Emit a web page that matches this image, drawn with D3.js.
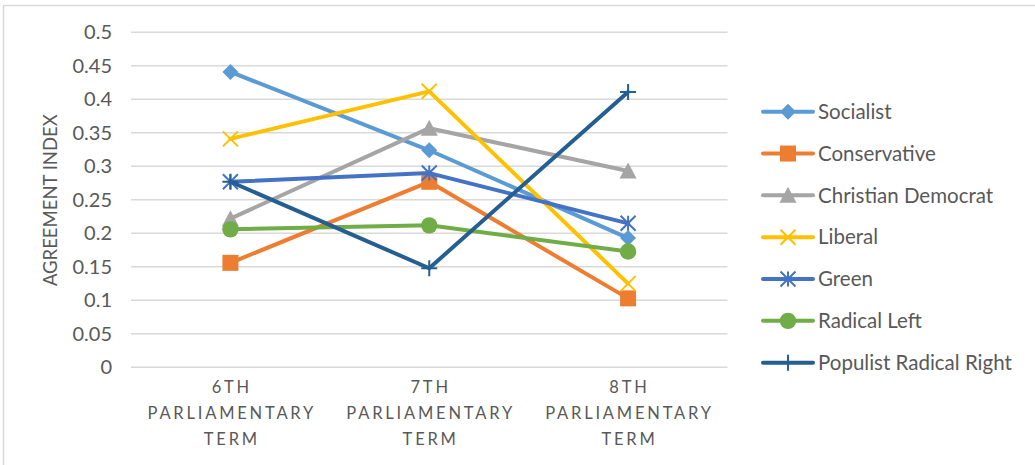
<!DOCTYPE html>
<html><head><meta charset="utf-8">
<script src="https://cdn.jsdelivr.net/npm/d3@7"></script>
<style>
html,body{margin:0;padding:0;background:#fff;}
svg{display:block;font-family:Lato,"Noto Sans",sans-serif;}
</style></head>
<body>
<script>
const categories = ["6TH|PARLIAMENTARY|TERM", "7TH|PARLIAMENTARY|TERM", "8TH|PARLIAMENTARY|TERM"];
const seriesNames = ["Socialist","Conservative","Christian Democrat","Liberal","Green","Radical Left","Populist Radical Right"];
const socialist = [0.44, 0.323, 0.192];
const conservative = [0.155, 0.276, 0.102];
const christianDemocrat = [0.221, 0.356, 0.292];
const liberal = [0.34, 0.411, 0.124];
const green = [0.276, 0.289, 0.214];
const radicalLeft = [0.205, 0.211, 0.172];
const populistRadicalRight = [0.276, 0.147, 0.41];
const yTicks = [0,0.05,0.1,0.15,0.2,0.25,0.3,0.35,0.4,0.45,0.5];
const colors = ["#5B9BD5","#ED7D31","#A5A5A5","#FFC000","#4472C4","#70AD47","#255E91"];
const markers = ["diamond","square","triangle","x","star","circle","plus"];
const allValues = [socialist, conservative, christianDemocrat, liberal, green, radicalLeft, populistRadicalRight];

const W = 1035, H = 465;
const svg = d3.select("body").append("svg").attr("width", W).attr("height", H);
svg.append("rect").attr("width", W).attr("height", H).attr("fill", "#fff");
svg.append("path").attr("d", `M3.5,${H} V5.5 H${W}`).attr("fill","none").attr("stroke","#D9D9D9").attr("stroke-width",1.5);

const plot = {left: 131, right: 727.5, top: 31.7, bottom: 366.7};
const x = d3.scaleBand().domain(categories).range([plot.left, plot.right]);
const y = d3.scaleLinear().domain([0, 0.5]).range([plot.bottom, plot.top]);

const yAxis = d3.axisLeft(y).tickValues(yTicks).tickSize(-(plot.right - plot.left)).tickPadding(18)
  .tickFormat(d => d3.format("")(+d.toFixed(2)));
const gy = svg.append("g").attr("transform", `translate(${plot.left},0)`).call(yAxis);
gy.select(".domain").remove();
gy.selectAll(".tick line").attr("stroke", "#D9D9D9").attr("stroke-width", 1.5);
gy.selectAll(".tick text").attr("fill", "#595959").style("font-family","Lato,sans-serif").style("font-size", "20px").attr("x", -19).attr("dy", "0.35em");

const xAxis = d3.axisBottom(x).tickSize(0).tickFormat("");
const gx = svg.append("g").attr("transform", `translate(0,${plot.bottom})`).call(xAxis);
gx.select(".domain").remove();
const ls = 2.8;
gx.selectAll(".tick").each(function(d){
  const parts = d.split("|");
  const t = d3.select(this).append("text").attr("fill","#595959").attr("text-anchor","middle")
    .style("font-family","Lato,sans-serif").style("font-size","16.5px").style("letter-spacing", ls + "px");
  parts.forEach((p,i) => {
    t.append("tspan").attr("x", ls/2).attr("y", 21 + i*26).attr("dy","0.35em").text(p);
  });
});

svg.append("text").attr("transform", `translate(51,${(plot.top+plot.bottom)/2+1}) rotate(-90)`)
  .attr("text-anchor","middle").attr("dy","0.35em").attr("fill","#595959").style("font-size","18.5px").text("AGREEMENT INDEX");

function drawMarker(g, type, color, cx, cy){
  const s = 8;
  if (type === "diamond") {
    g.append("path").attr("d", `M${cx},${cy-s} L${cx+s},${cy} L${cx},${cy+s} L${cx-s},${cy} Z`).attr("fill", color);
  } else if (type === "square") {
    g.append("rect").attr("x", cx-8).attr("y", cy-8).attr("width", 16).attr("height", 16).attr("fill", color);
  } else if (type === "triangle") {
    g.append("path").attr("d", `M${cx},${cy-8.5} L${cx+8.5},${cy+7.5} L${cx-8.5},${cy+7.5} Z`).attr("fill", color);
  } else if (type === "circle") {
    g.append("circle").attr("cx", cx).attr("cy", cy).attr("r", 8.2).attr("fill", color);
  } else if (type === "x") {
    const r = 7.5;
    g.append("path").attr("d", `M${cx-r},${cy-r} L${cx+r},${cy+r} M${cx-r},${cy+r} L${cx+r},${cy-r}`).attr("stroke", color).attr("stroke-width", 2);
  } else if (type === "star") {
    const r = 7.5;
    g.append("path").attr("d", `M${cx-r},${cy-r} L${cx+r},${cy+r} M${cx-r},${cy+r} L${cx+r},${cy-r} M${cx},${cy-r} L${cx},${cy+r}`).attr("stroke", color).attr("stroke-width", 2);
  } else if (type === "plus") {
    const r = 8;
    g.append("path").attr("d", `M${cx-r},${cy} L${cx+r},${cy} M${cx},${cy-r} L${cx},${cy+r}`).attr("stroke", color).attr("stroke-width", 2);
  }
}

const line = d3.line().x((d,i) => x(categories[i]) + x.bandwidth()/2).y(d => y(d));
allValues.forEach((vals, si) => {
  const g = svg.append("g");
  g.append("path").datum(vals).attr("d", line).attr("fill","none").attr("stroke", colors[si])
    .attr("stroke-width", 4).attr("stroke-linejoin","round").attr("stroke-linecap","round");
  vals.forEach((v,i) => drawMarker(g, markers[si], colors[si], x(categories[i]) + x.bandwidth()/2, y(v)));
});

const leg = svg.append("g");
seriesNames.forEach((name, i) => {
  const ly = 111.7 + i * 41.83;
  const g = leg.append("g");
  g.append("line").attr("x1", 763).attr("x2", 813).attr("y1", ly).attr("y2", ly).attr("stroke", colors[i]).attr("stroke-width", 4).attr("stroke-linecap","round");
  drawMarker(g, markers[i], colors[i], 788, ly);
  g.append("text").attr("x", 818).attr("y", ly).attr("dy","0.35em").attr("fill","#595959").style("font-size","20.5px").text(name);
});
</script>
</body></html>
